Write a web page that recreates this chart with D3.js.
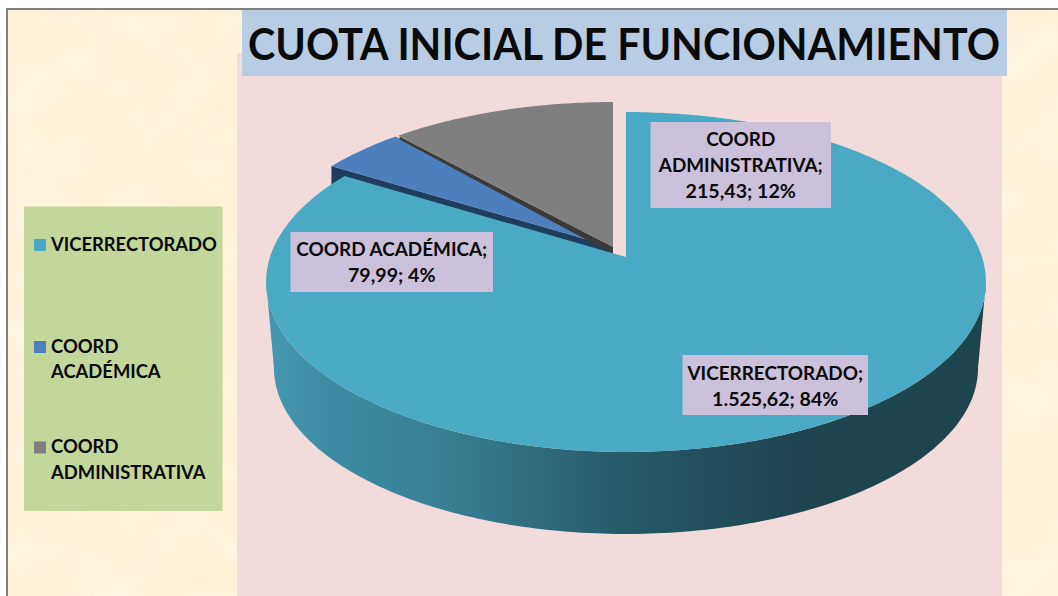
<!DOCTYPE html>
<html>
<head>
<meta charset="utf-8">
<script src="https://cdn.jsdelivr.net/npm/d3@7/dist/d3.min.js"></script>
<style>html,body{margin:0;padding:0;background:#fff}svg{display:block}text{font-family:Lato,"Open Sans",sans-serif;font-weight:700;fill:#0a0a0a}</style>
</head>
<body>
<svg id="c" width="1058" height="596"></svg>
<script>
const chartTitle = "CUOTA INICIAL DE FUNCIONAMIENTO";
const categories = ["VICERRECTORADO", "COORD ACADÉMICA", "COORD ADMINISTRATIVA"];
const values = [1525.62, 79.99, 215.43];
const sliceColors = ["#4aa9c4", "#4c7fbb", "#7f7f7f"];
const legendLines = [["VICERRECTORADO"], ["COORD", "ACADÉMICA"], ["COORD", "ADMINISTRATIVA"]];
const labelLines = [["VICERRECTORADO;"], ["COORD ACADÉMICA;"], ["COORD", "ADMINISTRATIVA;"]];

const svg = d3.select("#c");
const defs = svg.append("defs");

// parchment mottling
const tex = defs.append("filter").attr("id","tex").attr("x",0).attr("y",0).attr("width","100%").attr("height","100%");
tex.append("feTurbulence").attr("type","fractalNoise").attr("baseFrequency","0.014 0.022").attr("numOctaves",4).attr("seed",7);
tex.append("feColorMatrix").attr("values","0 0 0 0 1  0 0 0 0 0.97  0 0 0 0 0.87  1.1 0 0 0 -0.42");

// frame and background
svg.append("rect").attr("x",7).attr("y",9).attr("width",1060).attr("height",600).attr("fill","#fdf0d6").attr("stroke","#808080").attr("stroke-width",2);
svg.append("rect").attr("x",8).attr("y",10).attr("width",1050).attr("height",586).attr("filter","url(#tex)");

// plot area and title
svg.append("rect").attr("x",237).attr("y",53).attr("width",765).attr("height",543).attr("fill","#f2dcdb");
svg.append("rect").attr("x",242).attr("y",10).attr("width",765).attr("height",66).attr("fill","#b8cce4");
svg.append("text").attr("x",248).attr("y",59.5).attr("font-size",43).attr("textLength",752).attr("lengthAdjust","spacingAndGlyphs").text(chartTitle);

// legend
svg.append("rect").attr("x",24).attr("y",206.5).attr("width",198.5).attr("height",304.5).attr("fill","#c4d79b");
const legendY = d3.scaleOrdinal().domain(categories).range([250.5, 352.5, 453]);
categories.forEach((c,i)=>{
  const y = legendY(c);
  svg.append("rect").attr("x",34).attr("y",y-11.5).attr("width",12).attr("height",12).attr("fill",sliceColors[i]);
  legendLines[i].forEach((t,j)=>svg.append("text").attr("x",51).attr("y",y+j*25.6).attr("font-size",18.4).text(t));
});

// pie geometry
const pie = d3.pie().sort(null).value(d=>d)(values);
const persp = 0.147;
const topFace = {x0:626, y0:257, A:356, B:166.3};
const baseFace = {x0:626, y0:343.6, A:348.2, B:162.4};
function project(face, a, dx=0, dy=0){
  const u=Math.sin(a), v=Math.cos(a), w=1+persp*v;
  return [face.x0+dx+face.A*u/w, face.y0+dy+-face.B*v/w];
}
const line = d3.line();
function arcPts(face,a0,a1,dx,dy){
  const n=Math.max(2,Math.ceil(Math.abs(a1-a0)*60));
  return d3.range(n+1).map(i=>project(face,a0+(a1-a0)*i/n,dx,dy));
}
function wedge(face,s,dx=0,dy=0){
  return line([[face.x0+dx,face.y0+dy],...arcPts(face,s.startAngle,s.endAngle,dx,dy)])+"Z";
}
const [vice,acad,admin] = pie;
const exDx=-13, exDy=-10;

// exploded slices: side of the academic wedge
const apex=[626+exDx,257+exDy];
const aStart=project(topFace,acad.startAngle,exDx,exDy);
svg.append("path").attr("d",line([aStart,apex,[apex[0],apex[1]+82],[aStart[0],aStart[1]+82]])+"Z").attr("fill","#1f3d5f");
svg.append("path").attr("d",wedge(topFace,acad,exDx,exDy)).attr("fill",sliceColors[1]);

// side of the administrative wedge
const gStart=project(topFace,admin.startAngle,exDx+4,exDy);
svg.append("path").attr("d",line([gStart,apex,[apex[0],apex[1]+7],[gStart[0],gStart[1]+3]])+"Z").attr("fill","#3a3a3a");
svg.append("path").attr("d",line([[apex[0],apex[1]],gStart,...arcPts(topFace,admin.startAngle+0.012,admin.endAngle,exDx,exDy)])+"Z").attr("fill",sliceColors[2]);

// main wall with horizontal shading
const wallScale=d3.scaleLinear().domain([266,986]).range([0,100]);
const grad=defs.append("linearGradient").attr("id","wall").attr("gradientUnits","userSpaceOnUse").attr("x1",266).attr("x2",986).attr("y1",0).attr("y2",0);
[[266,"#4698b2"],[330,"#3e8ba3"],[400,"#3a859b"],[470,"#357a8e"],[560,"#2d6778"],[640,"#255864"],[720,"#214e5a"],[800,"#1e454f"],[986,"#1e444e"]]
  .forEach(([x,c])=>grad.append("stop").attr("offset",wallScale(x)+"%").attr("stop-color",c));
const aR=Math.acos(-persp), aL=2*Math.PI-aR;
const wall=[...arcPts(topFace,aR,aL),...arcPts(baseFace,aL,aR)];
svg.append("path").attr("d",line(wall)+"Z").attr("fill","url(#wall)");
svg.append("path").attr("d",wedge(topFace,vice)).attr("fill",sliceColors[0]);

// data labels
const fmt=d3.formatLocale({decimal:",",thousands:".",grouping:[3],currency:["",""]});
const total=d3.sum(values);
const valueLine=v=>fmt.format(",.2f")(v)+"; "+d3.format(".0f")(v/total*100)+"%";
const boxes=[[682.5,355,185.5,60,380],[290.5,232,202.5,60,256],[650.5,122,180.5,86,146]];
values.forEach((v,i)=>{
  const [x,y,w,h,base]=boxes[i];
  svg.append("rect").attr("x",x).attr("y",y).attr("width",w).attr("height",h).attr("fill","#ccc1da");
  const lines=labelLines[i];
  lines.forEach((t,j)=>
    svg.append("text").attr("x",x+w/2).attr("y",base+j*25.8).attr("text-anchor","middle").attr("font-size",18.9).text(t));
  svg.append("text").attr("x",x+w/2).attr("y",base+lines.length*25.8).attr("text-anchor","middle").attr("font-size",19.6).text(valueLine(v));
});
</script>
</body>
</html>
